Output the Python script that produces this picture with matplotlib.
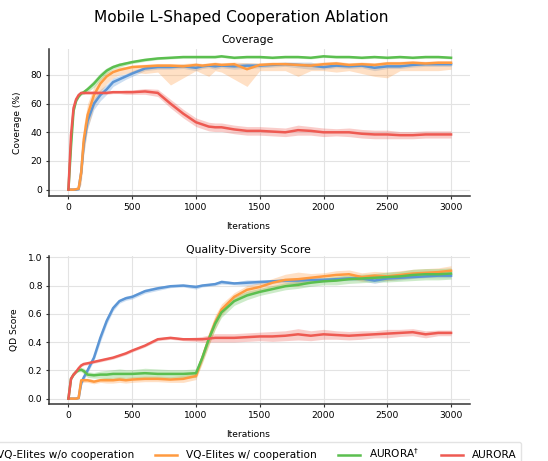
import numpy as np
import matplotlib
matplotlib.use("Agg")
import matplotlib.pyplot as plt

# итерации (общая сетка для всех кривых)
iters = [0, 20, 40, 60, 80, 100, 120, 150, 200, 250, 300, 350, 400, 450, 500,
         600, 700, 800, 900, 1000, 1050, 1100, 1150, 1200, 1300, 1400, 1500,
         1600, 1700, 1800, 1900, 2000, 2100, 2200, 2300, 2400, 2500, 2600,
         2700, 2800, 2900, 3000]

labels = ["VQ-Elites w/o cooperation", "VQ-Elites w/ cooperation",
          "AURORA$^{\\dagger}$", "AURORA"]
colors = ["#5b95d5", "#ff9a40", "#5bbf4f", "#ee5a52"]

# Coverage (%)
cov_blue = [0, 0, 0, 0, 0.5, 12, 32, 48, 60, 66, 70, 75, 77, 79, 81,
            84.5, 85.5, 85.5, 86, 85, 86, 86.5, 86, 86.5, 86, 86.5, 86.5,
            87, 87.5, 87, 86.5, 85.5, 86.5, 86, 86.5, 85, 86, 86,
            87, 87.5, 87.5, 87.5]
cov_orange = [0, 0, 0, 0.3, 0.8, 12, 35, 52, 66, 74, 79, 82, 83.5, 84.5, 85.5,
              86, 86.5, 86.5, 86, 87, 86.5, 87, 87.5, 87, 87.5, 84, 87,
              87.5, 87.5, 87, 86.5, 87.5, 88, 87, 87.5, 87, 88, 88,
              88.5, 88, 88.5, 88.5]
cov_green = [0, 30, 55, 62, 65, 67, 68, 70, 74, 79, 83, 85.5, 87, 88, 89,
             90.5, 91.5, 92, 92.5, 92.5, 92.5, 92.5, 92.5, 93, 92, 92.5, 92.5,
             92, 92.5, 92.5, 92, 93, 92.5, 92.5, 92, 92.5, 92, 92.5,
             92, 92.5, 92.5, 92]
cov_red = [0, 38, 57, 63, 66, 67.5, 67.5, 67.5, 67.5, 67.5, 67.5, 68, 68, 68, 68,
           68.5, 67.5, 60, 53, 47, 45.5, 44, 43.5, 43.5, 42, 41, 41,
           40.5, 40, 41.5, 41, 40, 40, 40, 39, 38.5, 38.5, 38,
           38, 38.5, 38.5, 38.5]

cov_blue_sd = [0, 0, 0, 0, 1, 5, 6, 5, 4, 4, 3.5, 3, 2.5, 2, 2,
               1.5, 1.5, 1.5, 1.5, 2, 1.5, 1.5, 2, 1.5, 2, 2, 1.5,
               1.5, 1.5, 2, 2.5, 1.5, 1.5, 1.5, 1.5, 2, 1.5, 1.5,
               1.5, 1.5, 1.5, 1.5]
cov_orange_lo = [0, 0, 0, 0, 0, 4, 24, 42, 58, 68, 74, 78, 80, 81, 82,
                 81, 82, 73, 78, 83, 81, 79, 83, 82, 77, 72, 83,
                 83, 83, 79, 83, 83, 82, 83, 81, 79, 78, 83,
                 83, 83, 83, 84]
cov_orange_hi = [0, 0, 0, 1, 2, 20, 45, 60, 72, 78, 82, 84, 85.5, 86, 87,
                 87.5, 88, 88, 88, 88.5, 88, 88.5, 89, 88.5, 89, 88.5, 88.5,
                 89, 89, 88.5, 88.5, 89, 89.5, 88.5, 89, 88.5, 89.5, 89.5,
                 90, 89.5, 90, 90]
cov_green_sd = [0, 2, 2, 1.5, 1, 1, 1.5, 2, 2.5, 2.5, 2, 1.5, 1.5, 1.2, 1,
                1, 0.8, 0.8, 0.8, 0.8, 0.8, 0.8, 0.8, 0.8, 0.8, 0.8, 0.8,
                0.8, 0.8, 0.8, 0.8, 0.8, 0.8, 0.8, 0.8, 0.8, 0.8, 0.8,
                0.8, 0.8, 0.8, 0.8]
cov_red_sd = [0, 3, 2, 1.5, 1, 1, 1, 1, 1, 1, 1, 1, 1, 1.5, 1.5,
              2, 2.5, 3, 3, 3, 3, 3, 3, 3, 3, 3, 3,
              3, 3, 3.5, 3, 3, 2.5, 3, 3, 3, 3, 2.5,
              2.5, 2.5, 2.5, 2.5]

# QD score
qd_blue = [0, 0, 0, 0, 0.005, 0.11, 0.15, 0.2, 0.29, 0.43, 0.55, 0.64, 0.69, 0.71, 0.72,
           0.76, 0.78, 0.795, 0.8, 0.79, 0.8, 0.805, 0.81, 0.825, 0.815, 0.82, 0.825,
           0.83, 0.835, 0.835, 0.84, 0.84, 0.845, 0.85, 0.85, 0.835, 0.85, 0.855,
           0.86, 0.865, 0.87, 0.87]
qd_orange = [0, 0, 0, 0, 0.005, 0.13, 0.13, 0.13, 0.12, 0.13, 0.13, 0.13, 0.135, 0.13, 0.135,
             0.14, 0.14, 0.135, 0.14, 0.16, 0.29, 0.42, 0.54, 0.63, 0.72, 0.77, 0.79,
             0.82, 0.84, 0.845, 0.855, 0.865, 0.875, 0.88, 0.86, 0.87, 0.865, 0.875,
             0.885, 0.89, 0.895, 0.905]
qd_green = [0, 0.14, 0.17, 0.19, 0.2, 0.205, 0.195, 0.17, 0.165, 0.17, 0.17, 0.175, 0.175, 0.175, 0.175,
            0.18, 0.175, 0.175, 0.175, 0.18, 0.29, 0.42, 0.53, 0.61, 0.69, 0.73, 0.755,
            0.775, 0.795, 0.805, 0.82, 0.83, 0.835, 0.845, 0.85, 0.855, 0.86, 0.865,
            0.875, 0.88, 0.88, 0.885]
qd_red = [0, 0.14, 0.17, 0.19, 0.215, 0.235, 0.245, 0.25, 0.26, 0.27, 0.28, 0.29, 0.305, 0.32, 0.34,
          0.375, 0.42, 0.43, 0.42, 0.42, 0.42, 0.425, 0.43, 0.43, 0.43, 0.435, 0.44,
          0.44, 0.445, 0.455, 0.445, 0.455, 0.45, 0.445, 0.45, 0.455, 0.46, 0.465,
          0.47, 0.455, 0.465, 0.465]

qd_blue_sd = [0, 0, 0, 0, 0.005, 0.02, 0.02, 0.02, 0.02, 0.03, 0.025, 0.02, 0.015, 0.015, 0.015,
              0.015, 0.015, 0.01, 0.01, 0.015, 0.01, 0.01, 0.01, 0.015, 0.01, 0.02, 0.015,
              0.01, 0.015, 0.02, 0.015, 0.015, 0.01, 0.015, 0.015, 0.02, 0.015, 0.015,
              0.01, 0.01, 0.015, 0.015]
qd_orange_sd = [0, 0, 0, 0, 0.005, 0.015, 0.015, 0.015, 0.015, 0.015, 0.02, 0.02, 0.02, 0.02, 0.02,
                0.02, 0.02, 0.02, 0.025, 0.025, 0.04, 0.05, 0.05, 0.04, 0.03, 0.03, 0.03,
                0.03, 0.04, 0.05, 0.03, 0.025, 0.03, 0.03, 0.03, 0.03, 0.03, 0.03,
                0.03, 0.03, 0.03, 0.035]
qd_green_sd = [0, 0.01, 0.01, 0.01, 0.01, 0.015, 0.02, 0.02, 0.02, 0.025, 0.03, 0.03, 0.035, 0.03, 0.03,
               0.035, 0.035, 0.03, 0.03, 0.03, 0.03, 0.04, 0.04, 0.035, 0.03, 0.03, 0.025,
               0.025, 0.025, 0.025, 0.025, 0.025, 0.03, 0.03, 0.03, 0.03, 0.035, 0.035,
               0.04, 0.04, 0.04, 0.04]
qd_red_sd = [0, 0.01, 0.01, 0.01, 0.01, 0.01, 0.01, 0.01, 0.01, 0.01, 0.01, 0.01, 0.01, 0.01, 0.01,
             0.01, 0.01, 0.01, 0.01, 0.015, 0.02, 0.025, 0.03, 0.03, 0.03, 0.03, 0.03,
             0.035, 0.035, 0.04, 0.035, 0.035, 0.03, 0.03, 0.03, 0.025, 0.03, 0.025,
             0.025, 0.025, 0.02, 0.02]


def style_axes(ax):
    for side in ["top", "right"]:
        ax.spines[side].set_visible(False)
    for side in ["left", "bottom"]:
        ax.spines[side].set_color("#333333")
        ax.spines[side].set_linewidth(1.1)
    ax.grid(True, color="#e3e3e3", linewidth=0.8)
    ax.set_axisbelow(True)
    ax.tick_params(labelsize=6.6, length=2.5, width=0.8, pad=2.5, color="#333333")
    ax.set_xlim(-150, 3150)
    ax.set_xticks([0, 500, 1000, 1500, 2000, 2500, 3000])


x = np.array(iters)
fig = plt.figure(figsize=(5.48, 4.61), dpi=100)
ax1 = fig.add_axes([0.090, 0.574, 0.768, 0.320])
ax2 = fig.add_axes([0.090, 0.123, 0.768, 0.322])

# верхний график: покрытие
cov_means = [cov_blue, cov_orange, cov_green, cov_red]
cov_lo = [np.array(cov_blue) - cov_blue_sd, cov_orange_lo,
          np.array(cov_green) - cov_green_sd, np.array(cov_red) - cov_red_sd]
cov_hi = [np.array(cov_blue) + cov_blue_sd, cov_orange_hi,
          np.array(cov_green) + cov_green_sd, np.array(cov_red) + cov_red_sd]
for i in range(4):
    ax1.fill_between(x, cov_lo[i], cov_hi[i], color=colors[i], alpha=0.3, linewidth=0)
    ax1.plot(x, cov_means[i], color=colors[i], linewidth=1.8, label=labels[i])

style_axes(ax1)
ax1.set_ylim(-4.7, 98.2)
ax1.set_yticks([0, 20, 40, 60, 80])
ax1.set_title("Coverage", fontsize=7.8, x=0.472, pad=4)
ax1.set_xlabel("Iterations", fontsize=6.6, labelpad=7, x=0.472)
ax1.set_ylabel("Coverage (%)", fontsize=6.6, labelpad=6)

# нижний график: QD score
qd_means = [qd_blue, qd_orange, qd_green, qd_red]
qd_sds = [qd_blue_sd, qd_orange_sd, qd_green_sd, qd_red_sd]
for i in range(4):
    m = np.array(qd_means[i])
    s = np.array(qd_sds[i])
    ax2.fill_between(x, m - s, m + s, color=colors[i], alpha=0.3, linewidth=0)
    ax2.plot(x, m, color=colors[i], linewidth=1.8)

style_axes(ax2)
ax2.set_ylim(-0.04, 1.01)
ax2.set_yticks([0.0, 0.2, 0.4, 0.6, 0.8, 1.0])
ax2.set_title("Quality-Diversity Score", fontsize=7.8, x=0.472, pad=2)
ax2.set_xlabel("Iterations", fontsize=6.6, labelpad=7, x=0.472)
ax2.set_ylabel("QD Score", fontsize=6.6, labelpad=6)

fig.suptitle("Mobile L-Shaped Cooperation Ablation", fontsize=11.1,
             x=241 / 548, y=1 - 10 / 461, va="top")

handles, _ = ax1.get_legend_handles_labels()
fig.legend(handles, labels, loc="upper center", ncol=4,
           bbox_to_anchor=(241 / 548, 1 - 437 / 461), fontsize=7.6,
           handlelength=2.1, handletextpad=0.85, columnspacing=2.0,
           frameon=True, edgecolor="#dddddd")

fig.savefig("out.png", dpi=100)
